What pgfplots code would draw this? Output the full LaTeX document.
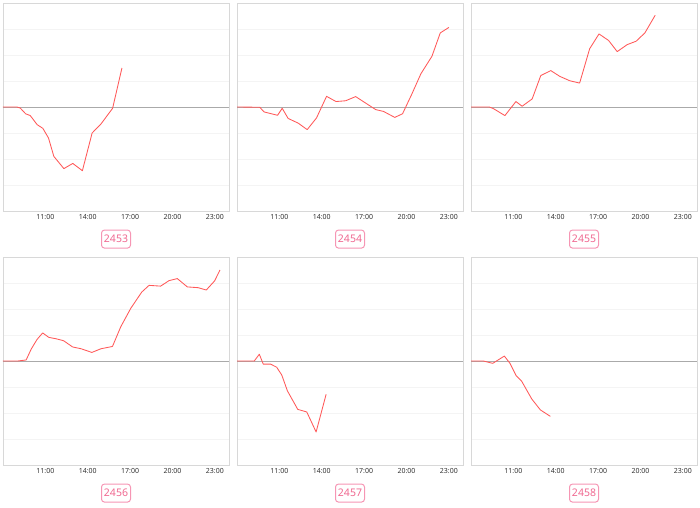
\documentclass[border=0pt]{standalone}
\usepackage{fontspec}
\setmainfont{Noto Sans}
\usepackage{pgfplots}
\pgfplotsset{compat=1.18}
\definecolor{linered}{RGB}{255,88,88}
\definecolor{boxpink}{RGB}{246,150,180}
\definecolor{textpink}{RGB}{240,105,145}
\definecolor{framegray}{RGB}{216,216,216}
\definecolor{gridgray}{RGB}{244,244,244}
\definecolor{zerogray}{RGB}{170,170,170}
\pgfplotsset{
  panel/.style={
    scale only axis, width=226pt, height=208pt, anchor=south west,
    xmin=8, xmax=24, ymin=-4, ymax=4,
    xtick={11,14,17,20,23},
    xticklabels={11:00,14:00,17:00,20:00,23:00},
    ytick={-3,-2,-1,1,2,3}, yticklabels={},
    ymajorgrids, major grid style={gridgray, line width=0.6pt},
    extra y ticks={0}, extra y tick labels={},
    extra y tick style={grid=major, major grid style={zerogray, line width=0.9pt}, major tick length=0pt},
    major tick length=0pt,
    axis line style={framegray, line width=0.9pt},
    xticklabel style={font=\fontsize{7}{8}\selectfont, text=black!80},
    xlabel style={at={(axis description cs:0.5,-0.135)}, anchor=center,
      draw=boxpink, line width=1pt, rounded corners=3pt, fill=white,
      text=textpink, font=\fontsize{10.5}{12}\selectfont,
      minimum width=29pt, minimum height=18pt, inner sep=2pt},
    clip=true,
  },
  redline/.style={linered, line width=0.85pt, line join=round},
}
\begin{document}
\begin{tikzpicture}
\useasboundingbox (0,0) rectangle (700pt,507pt);
% Row 1
\begin{axis}[panel, at={(3pt,296pt)}, xlabel={2453}]
\addplot[redline] coordinates {(8,0)(8.99,0)(9.22,-0.04)(9.6,-0.26)(9.93,-0.33)(10.42,-0.68)(10.82,-0.82)(11.22,-1.19)(11.6,-1.9)(12.31,-2.37)(12.94,-2.17)(13.62,-2.45)(14.31,-1.0)(14.94,-0.65)(15.76,-0.05)(16.42,1.5)};
\end{axis}
\begin{axis}[panel, at={(237pt,296pt)}, xlabel={2454}]
\addplot[redline] coordinates {(8,0)(9.61,-0.01)(9.92,-0.19)(10.87,-0.32)(11.2,-0.05)(11.62,-0.44)(12.33,-0.62)(12.97,-0.87)(13.63,-0.42)(14.34,0.41)(15.01,0.21)(15.69,0.24)(16.4,0.4)(17.11,0.15)(17.82,-0.1)(18.37,-0.17)(19.17,-0.4)(19.72,-0.26)(20.38,0.5)(21.02,1.28)(21.8,1.95)(22.39,2.85)(23.0,3.06)};
\end{axis}
\begin{axis}[panel, at={(471pt,296pt)}, xlabel={2455}]
\addplot[redline] coordinates {(8,0)(9.29,0)(9.58,-0.06)(10.4,-0.33)(11.18,0.21)(11.62,0.03)(12.33,0.31)(12.94,1.21)(13.65,1.4)(14.28,1.18)(14.99,1.01)(15.69,0.92)(16.4,2.24)(17.06,2.81)(17.74,2.56)(18.35,2.13)(19.06,2.4)(19.69,2.53)(20.31,2.85)(21.04,3.53)};
\end{axis}
% Row 2
\begin{axis}[panel, at={(3pt,42pt)}, xlabel={2456}]
\addplot[redline] coordinates {(8,0)(9.05,0)(9.64,0.04)(9.99,0.45)(10.41,0.83)(10.81,1.08)(11.24,0.91)(11.8,0.85)(12.29,0.78)(12.93,0.54)(13.54,0.47)(14.29,0.33)(14.93,0.47)(15.75,0.56)(16.34,1.32)(17.05,2.03)(17.82,2.65)(18.34,2.91)(19.16,2.88)(19.75,3.09)(20.34,3.17)(21.05,2.85)(21.82,2.82)(22.39,2.73)(22.98,3.08)(23.36,3.5)};
\end{axis}
\begin{axis}[panel, at={(237pt,42pt)}, xlabel={2457}]
\addplot[redline] coordinates {(8,0)(9.22,0)(9.58,0.26)(9.86,-0.12)(10.38,-0.12)(10.81,-0.24)(11.17,-0.54)(11.57,-1.15)(12.3,-1.86)(12.94,-1.96)(13.6,-2.73)(14.31,-1.28)};
\end{axis}
\begin{axis}[panel, at={(471pt,42pt)}, xlabel={2458}]
\addplot[redline] coordinates {(8,0)(8.87,0)(9.54,-0.09)(10.36,0.19)(10.76,-0.09)(11.19,-0.56)(11.59,-0.78)(12.3,-1.46)(12.91,-1.88)(13.62,-2.13)};
\end{axis}
\end{tikzpicture}
\end{document}
